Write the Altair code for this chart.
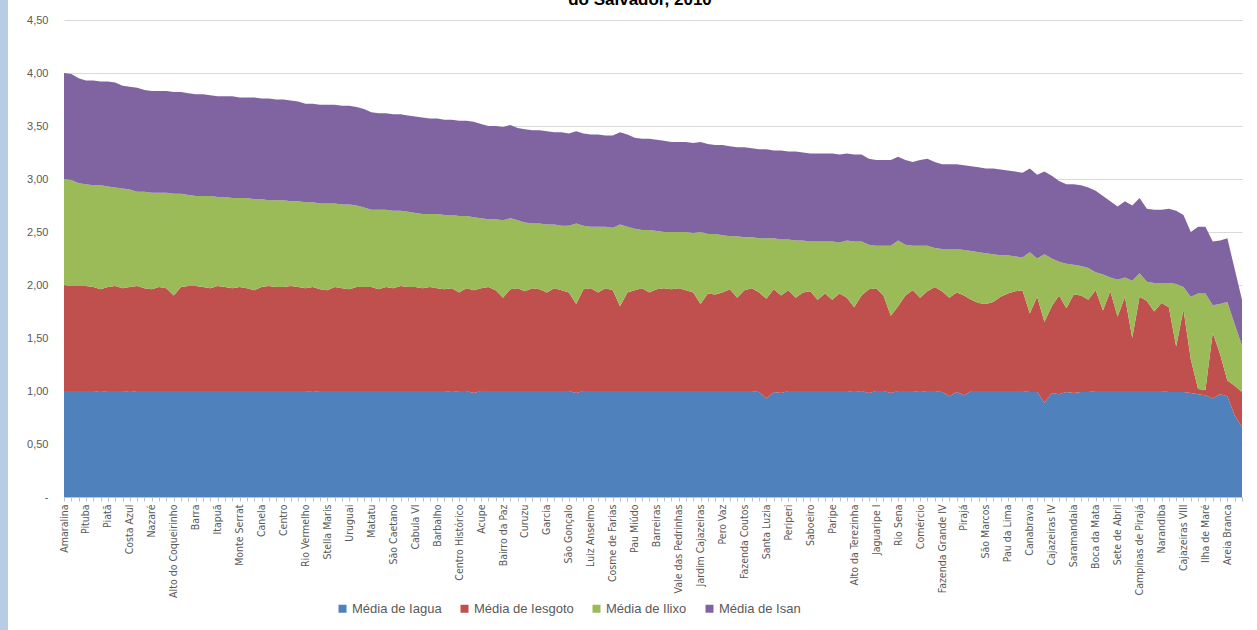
import altair as alt
import pandas as pd

# Rótulos visíveis do eixo X (um a cada 3 bairros)
bairros_rotulados = [
    "Amaralina", "Pituba", "Piatã", "Costa Azul", "Nazaré", "Alto do Coqueirinho",
    "Barra", "Itapuã", "Monte Serrat", "Canela", "Centro", "Rio Vermelho",
    "Stella Maris", "Uruguai", "Matatu", "São Caetano", "Cabula VI", "Barbalho",
    "Centro Histórico", "Acupe", "Bairro da Paz", "Curuzu", "Garcia", "São Gonçalo",
    "Luiz Anselmo", "Cosme de Farias", "Pau Miúdo", "Barreiras", "Vale das Pedrinhas",
    "Jardim Cajazeiras", "Pero Vaz", "Fazenda Coutos", "Santa Luzia", "Periperi",
    "Saboeiro", "Paripe", "Alto da Terezinha", "Jaguaripe I", "Rio Sena", "Comércio",
    "Fazenda Grande IV", "Pirajá", "São Marcos", "Pau da Lima", "Canabrava",
    "Cajazeiras IV", "Saramandaia", "Boca da Mata", "Sete de Abril",
    "Campinas de Pirajá", "Narandiba", "Cajazeiras VIII", "Ilha de Maré", "Areia Branca",
]

series = ["Média de Iagua", "Média de Iesgoto", "Média de Ilixo", "Média de Isan"]
cores = ["#4f81bd", "#c0504d", "#9bbb59", "#8064a2"]

# Níveis acumulados (topo de cada faixa empilhada)
nivel_agua = [
    1.00, 1.00, 1.00, 1.00, 1.00, 0.99, 1.00, 1.00, 1.00, 0.99,
    1.00, 1.00, 1.00, 1.00, 1.00, 1.00, 1.00, 1.00, 1.00, 1.00,
    1.00, 1.00, 1.00, 1.00, 1.00, 1.00, 1.00, 1.00, 1.00, 1.00,
    1.00, 1.00, 1.00, 1.00, 0.99, 1.00, 1.00, 1.00, 1.00, 1.00,
    1.00, 1.00, 1.00, 1.00, 1.00, 1.00, 1.00, 1.00, 1.00, 1.00,
    1.00, 1.00, 1.00, 0.99, 1.00, 1.00, 0.98, 1.00, 1.00, 1.00,
    1.00, 1.00, 1.00, 1.00, 1.00, 1.00, 1.00, 1.00, 1.00, 1.00,
    0.98, 1.00, 1.00, 1.00, 1.00, 1.00, 1.00, 1.00, 1.00, 1.00,
    1.00, 1.00, 1.00, 1.00, 1.00, 1.00, 1.00, 1.00, 1.00, 1.00,
    1.00, 1.00, 1.00, 1.00, 1.00, 0.99, 0.93, 0.99, 0.98, 1.00,
    1.00, 1.00, 1.00, 1.00, 1.00, 1.00, 1.00, 1.00, 0.99, 1.00,
    0.98, 1.00, 1.00, 0.98, 1.00, 1.00, 1.00, 0.99, 1.00, 1.00,
    0.99, 0.95, 0.99, 0.96, 1.00, 1.00, 1.00, 1.00, 1.00, 1.00,
    1.00, 1.00, 0.99, 0.99, 0.89, 0.98, 0.97, 0.99, 0.98, 0.99,
    0.99, 1.00, 1.00, 1.00, 1.00, 1.00, 1.00, 1.00, 1.00, 1.00,
    1.00, 0.99, 0.99, 0.99, 0.98, 0.97, 0.96, 0.93, 0.97, 0.95,
    0.77, 0.66,
]
nivel_esgoto = [
    2.00, 1.99, 1.99, 1.99, 1.98, 1.96, 1.98, 1.99, 1.97, 1.98,
    1.99, 1.97, 1.96, 1.98, 1.97, 1.90, 1.98, 1.99, 1.99, 1.98,
    1.97, 1.99, 1.98, 1.97, 1.98, 1.97, 1.95, 1.98, 1.99, 1.98,
    1.98, 1.99, 1.98, 1.97, 1.98, 1.96, 1.95, 1.98, 1.97, 1.96,
    1.98, 1.98, 1.98, 1.96, 1.98, 1.97, 1.99, 1.98, 1.98, 1.97,
    1.98, 1.97, 1.96, 1.97, 1.93, 1.97, 1.95, 1.97, 1.98, 1.95,
    1.88, 1.96, 1.97, 1.94, 1.97, 1.96, 1.93, 1.97, 1.95, 1.93,
    1.82, 1.96, 1.97, 1.93, 1.97, 1.95, 1.80, 1.93, 1.95, 1.97,
    1.93, 1.96, 1.97, 1.96, 1.97, 1.95, 1.93, 1.82, 1.92, 1.91,
    1.93, 1.96, 1.88, 1.95, 1.97, 1.93, 1.87, 1.96, 1.90, 1.95,
    1.88, 1.93, 1.94, 1.86, 1.92, 1.86, 1.92, 1.88, 1.79, 1.90,
    1.96, 1.97, 1.90, 1.71, 1.80, 1.90, 1.95, 1.88, 1.94, 1.98,
    1.94, 1.88, 1.93, 1.90, 1.86, 1.83, 1.82, 1.84, 1.89, 1.92,
    1.94, 1.95, 1.73, 1.89, 1.65, 1.80, 1.90, 1.78, 1.91, 1.90,
    1.86, 1.95, 1.76, 1.94, 1.70, 1.89, 1.50, 1.89, 1.85, 1.75,
    1.83, 1.79, 1.42, 1.77, 1.30, 1.02, 1.01, 1.55, 1.35, 1.10,
    1.05, 0.99,
]
nivel_lixo = [
    3.00, 2.99, 2.96, 2.95, 2.94, 2.94, 2.93, 2.92, 2.91, 2.90,
    2.88, 2.88, 2.87, 2.87, 2.87, 2.86, 2.86, 2.85, 2.84, 2.84,
    2.84, 2.83, 2.83, 2.82, 2.82, 2.82, 2.81, 2.81, 2.80, 2.80,
    2.80, 2.79, 2.79, 2.78, 2.78, 2.77, 2.77, 2.77, 2.76, 2.76,
    2.75, 2.73, 2.71, 2.71, 2.71, 2.70, 2.70, 2.69, 2.68, 2.67,
    2.67, 2.67, 2.66, 2.66, 2.65, 2.65, 2.64, 2.63, 2.62, 2.62,
    2.61, 2.63, 2.61, 2.59, 2.58, 2.58, 2.57, 2.57, 2.56, 2.56,
    2.58, 2.56, 2.55, 2.55, 2.55, 2.54, 2.57, 2.55, 2.53, 2.52,
    2.52, 2.51, 2.50, 2.50, 2.50, 2.50, 2.49, 2.50, 2.48, 2.48,
    2.47, 2.46, 2.46, 2.45, 2.45, 2.44, 2.44, 2.44, 2.43, 2.43,
    2.42, 2.42, 2.41, 2.41, 2.41, 2.41, 2.40, 2.42, 2.41, 2.41,
    2.38, 2.37, 2.37, 2.37, 2.42, 2.38, 2.37, 2.37, 2.37, 2.35,
    2.34, 2.34, 2.34, 2.33, 2.32, 2.31, 2.30, 2.29, 2.28, 2.28,
    2.27, 2.26, 2.31, 2.25, 2.29, 2.25, 2.22, 2.20, 2.19, 2.18,
    2.16, 2.12, 2.10, 2.07, 2.05, 2.07, 2.04, 2.11, 2.03, 2.02,
    2.02, 2.02, 2.01, 1.98, 1.89, 1.92, 1.92, 1.81, 1.82, 1.84,
    1.63, 1.43,
]
nivel_san = [
    4.00, 3.99, 3.95, 3.93, 3.93, 3.92, 3.92, 3.91, 3.88, 3.87,
    3.86, 3.84, 3.83, 3.83, 3.83, 3.82, 3.82, 3.81, 3.80, 3.80,
    3.79, 3.78, 3.78, 3.78, 3.77, 3.77, 3.77, 3.76, 3.76, 3.75,
    3.75, 3.74, 3.73, 3.71, 3.71, 3.70, 3.70, 3.70, 3.69, 3.69,
    3.68, 3.66, 3.63, 3.62, 3.62, 3.61, 3.61, 3.60, 3.59, 3.58,
    3.57, 3.57, 3.56, 3.56, 3.55, 3.55, 3.54, 3.52, 3.50, 3.50,
    3.49, 3.51, 3.48, 3.47, 3.46, 3.46, 3.45, 3.44, 3.44, 3.43,
    3.45, 3.43, 3.42, 3.42, 3.41, 3.41, 3.44, 3.42, 3.39, 3.38,
    3.38, 3.37, 3.36, 3.35, 3.35, 3.35, 3.34, 3.35, 3.33, 3.32,
    3.32, 3.31, 3.30, 3.30, 3.29, 3.28, 3.28, 3.27, 3.27, 3.26,
    3.26, 3.25, 3.24, 3.24, 3.24, 3.24, 3.23, 3.24, 3.23, 3.23,
    3.19, 3.18, 3.18, 3.18, 3.21, 3.18, 3.16, 3.18, 3.19, 3.16,
    3.14, 3.14, 3.14, 3.13, 3.12, 3.11, 3.10, 3.10, 3.09, 3.08,
    3.07, 3.06, 3.10, 3.04, 3.07, 3.03, 2.98, 2.95, 2.95, 2.94,
    2.92, 2.89, 2.84, 2.79, 2.74, 2.79, 2.75, 2.82, 2.72, 2.71,
    2.71, 2.72, 2.70, 2.66, 2.50, 2.55, 2.55, 2.41, 2.42, 2.44,
    2.15, 1.86,
]

n = len(nivel_agua)
linhas = []
for i in range(n):
    valores = [
        nivel_agua[i],
        nivel_esgoto[i] - nivel_agua[i],
        nivel_lixo[i] - nivel_esgoto[i],
        nivel_san[i] - nivel_lixo[i],
    ]
    for k, (s, v) in enumerate(zip(series, valores)):
        linhas.append({"i": i, "serie": s, "ordem": k, "valor": round(v, 4)})
df = pd.DataFrame(linhas)

arr = "[" + ",".join("'" + b + "'" for b in bairros_rotulados) + "]"
label_expr = f"datum.value % 3 == 0 ? {arr}[datum.value / 3] : ''"

FONT = "Liberation Sans Narrow, DejaVu Sans Condensed, Liberation Sans"
W, H = 1178, 477

areas = alt.Chart(df).mark_area(interpolate="linear", opacity=1).encode(
    x=alt.X(
        "i:Q",
        scale=alt.Scale(domain=[0, n - 1], nice=False, zero=False),
        axis=alt.Axis(
            title=None,
            values=list(range(n)),
            labelExpr=label_expr,
            labelAngle=-90,
            labelAlign="right",
            labelBaseline="middle",
            labelFont=FONT,
            labelFontSize=10.5,
            labelColor="#595959",
            labelOverlap=False,
            labelFlush=False,
            labelPadding=3,
            tickSize=4,
            tickColor="#bfbfbf",
            domainColor="#bfbfbf",
            grid=False,
        ),
    ),
    y=alt.Y(
        "valor:Q",
        stack="zero",
        scale=alt.Scale(domain=[0, 4.5], nice=False),
        axis=alt.Axis(
            title=None,
            values=[0, 0.5, 1, 1.5, 2, 2.5, 3, 3.5, 4, 4.5],
            labelExpr="datum.value == 0 ? '-' : replace(format(datum.value, '.2f'), '.', ',')",
            labelFont="Liberation Sans",
            labelFontSize=11,
            labelColor="#595959",
            labelPadding=16,
            domain=False,
            ticks=False,
            grid=True,
            gridColor="#d9d9d9",
        ),
    ),
    color=alt.Color(
        "serie:N",
        scale=alt.Scale(domain=series, range=cores),
        legend=alt.Legend(
            title=None,
            orient="none",
            direction="horizontal",
            legendX=272,
            legendY=582,
            symbolType="square",
            symbolSize=64,
            symbolStrokeWidth=0,
            labelFont="Liberation Sans",
            labelFontSize=13,
            labelColor="#595959",
            columnPadding=16,
            labelOffset=3,
        ),
    ),
    order=alt.Order("ordem:Q", sort="ascending"),
)

faixa = alt.Chart(pd.DataFrame({"k": [0]})).mark_rect(color="#b8cce4").encode(
    x=alt.value(-64), x2=alt.value(-56), y=alt.value(-20), y2=alt.value(H + 133)
)

titulo = alt.Chart(pd.DataFrame({"t": ["do Salvador, 2010"]})).mark_text(
    font="Liberation Sans", fontSize=17, fontWeight="bold", color="#000000",
    align="center", baseline="alphabetic"
).encode(text="t:N", x=alt.value(576), y=alt.value(-15))

chart = alt.layer(faixa, areas, titulo).properties(
    width=W, height=H,
    autosize=alt.AutoSizeParams(type="none"),
    padding={"left": 64, "top": 20, "right": 15, "bottom": 133},
    background="white",
).configure_view(stroke=None)

chart.save("out.html", embed_options={"renderer": "svg", "actions": False})
